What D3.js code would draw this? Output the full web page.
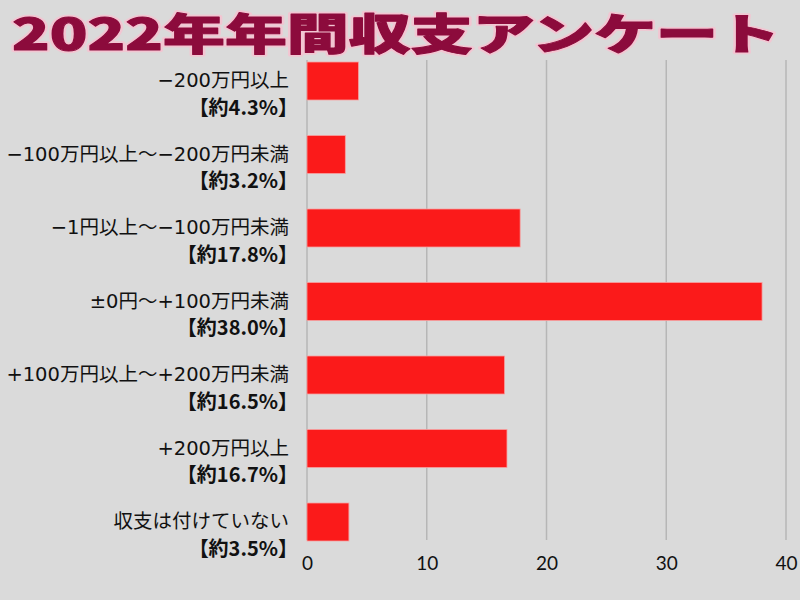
<!DOCTYPE html>
<html><head><meta charset="utf-8">
<script src="https://cdn.jsdelivr.net/npm/d3@7"></script>
<style>
html,body{margin:0;padding:0;background:#dadada;}
svg{display:block;}
</style></head>
<body>
<script>
const title = "2022年年間収支アンケート";
const categories = ["−200万円以上","−100万円以上〜−200万円未満","−1円以上〜−100万円未満","±0円〜+100万円未満","+100万円以上〜+200万円未満","+200万円以上","収支は付けていない"];
const percentLabels = ["【約4.3%】","【約3.2%】","【約17.8%】","【約38.0%】","【約16.5%】","【約16.7%】","【約3.5%】"];
const values = [4.3,3.2,17.8,38.0,16.5,16.7,3.5];
const tickValues = [0,10,20,30,40];

const W=800,H=600;
const svg=d3.select("body").append("svg").attr("width",W).attr("height",H);
svg.append("rect").attr("width",W).attr("height",H).attr("fill","#dadada");

const x=d3.scaleLinear().domain([0,40]).range([307,786]);
const y=d3.scaleBand().domain(categories).range([62,541]).paddingInner(0.483).paddingOuter(0);
const gridTop=60, gridBottom=540;

// gridlines
svg.append("g").selectAll("line").data(tickValues).join("line")
  .attr("x1",d=>x(d)).attr("x2",d=>x(d)).attr("y1",gridTop).attr("y2",gridBottom)
  .attr("stroke","#b6b6b6").attr("stroke-width",1.5);

// bars
svg.append("g").selectAll("rect").data(values).join("rect")
  .attr("x",x(0)).attr("y",(d,i)=>y(categories[i]))
  .attr("width",d=>x(d)-x(0)).attr("height",y.bandwidth())
  .attr("fill","#fb1a1a").attr("stroke","#f7a0a0").attr("stroke-width",0.8);

// x axis labels
const xAxis=d3.axisBottom(x).tickValues(tickValues).tickSize(0).tickPadding(0);
const gx=svg.append("g").attr("transform",`translate(0,${gridBottom+16})`).call(xAxis);
gx.select(".domain").remove();
gx.selectAll("text").attr("font-family","Lato, 'Noto Sans CJK JP', sans-serif").attr("font-weight",400)
  .attr("font-size",19).attr("fill","#111").attr("dy","0.75em");

// category labels
const lab=svg.append("g").selectAll("g").data(categories).join("g");
const fs1=19.5, fs2=20;
lab.append("text").attr("x",289).attr("y",d=>y(d)+y.bandwidth()/2-1+0.38*fs1)
  .attr("text-anchor","end").attr("font-family","'DejaVu Sans', 'Noto Sans CJK JP', sans-serif").attr("font-weight",400)
  .attr("font-size",fs1).attr("fill","#111").text(d=>d);
lab.append("text").attr("x",298).attr("y",(d,i)=>y(d)+y.bandwidth()/2+26+0.38*fs2)
  .attr("text-anchor","end").attr("font-family","'Noto Sans CJK JP', sans-serif").attr("font-weight",700)
  .attr("font-size",fs2).attr("fill","#111").text((d,i)=>percentLabels[i]);

// title (outline layer + heavy fill layer)
const tg=svg.append("g");
tg.append("text").attr("x",12).attr("y",50)
  .attr("font-family","'Noto Sans CJK JP', sans-serif").attr("font-weight",900)
  .attr("font-size",43).attr("fill","#f2c6d2")
  .attr("stroke","#f2c6d2").attr("stroke-width",4.5).attr("stroke-linejoin","round")
  .attr("textLength",768).attr("lengthAdjust","spacingAndGlyphs")
  .text(title);
tg.append("text").attr("x",12).attr("y",50)
  .attr("font-family","'Noto Sans CJK JP', sans-serif").attr("font-weight",900)
  .attr("font-size",43).attr("fill","#8c0b3c")
  .attr("stroke","#8c0b3c").attr("stroke-width",1).attr("stroke-linejoin","round")
  .attr("textLength",768).attr("lengthAdjust","spacingAndGlyphs")
  .text(title);
</script>
</body></html>
